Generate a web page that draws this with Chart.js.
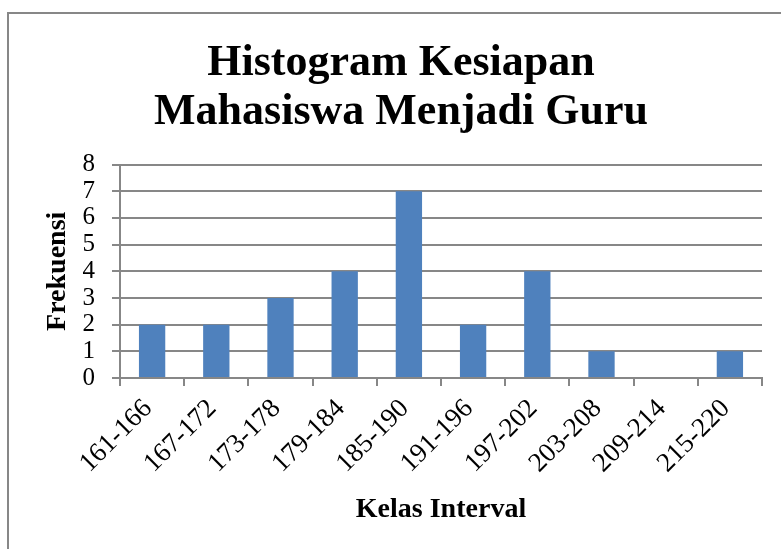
<!DOCTYPE html>
<html>
<head>
<meta charset="utf-8">
<title>Histogram Kesiapan Mahasiswa Menjadi Guru</title>
<script src="https://cdn.jsdelivr.net/npm/chart.js@4"></script>
<style>
	html, body { margin: 0; padding: 0; background: #ffffff; }
	#wrap { position: relative; width: 781px; height: 549px; }
</style>
</head>
<body>
<div id="wrap"><canvas id="grafik"></canvas></div>
<script>
// Data histogram
const kelasInterval = ['161-166', '167-172', '173-178', '179-184', '185-190', '191-196', '197-202', '203-208', '209-214', '215-220'];
const frekuensi = [2, 2, 3, 4, 7, 2, 4, 1, 0, 1];
const judul = ['Histogram Kesiapan', 'Mahasiswa Menjadi Guru'];

const abu = '#878787';
const serif = "'Liberation Serif', 'Times New Roman', serif";

// Bingkai abu-abu di sekeliling grafik
const bingkai = {
	id: 'bingkai',
	beforeDraw(chart) {
		const ctx = chart.ctx;
		ctx.save();
		ctx.fillStyle = '#ffffff';
		ctx.fillRect(0, 0, chart.width, chart.height);
		ctx.strokeStyle = abu;
		ctx.lineWidth = 2;
		ctx.strokeRect(8, 13, 800, 600);
		ctx.restore();
	}
};

new Chart(document.getElementById('grafik'), {
	type: 'bar',
	data: {
		labels: kelasInterval,
		datasets: [{
			label: 'Frekuensi',
			data: frekuensi,
			backgroundColor: '#4F81BD',
			categoryPercentage: 1,
			barPercentage: 0.41
		}]
	},
	options: {
		responsive: true,
		maintainAspectRatio: false,
		animation: false,
		layout: { padding: { left: 40, right: 19, top: 0, bottom: 0 } },
		plugins: {
			legend: { display: false },
			tooltip: { enabled: false },
			title: {
				display: true,
				text: judul,
				color: '#000000',
				font: { family: serif, size: 44, weight: 'bold', lineHeight: 1.12 },
				padding: { top: 39, bottom: 27 }
			}
		},
		scales: {
			x: {
				afterFit(scale) { scale.height = 171; },
				grid: {
					offset: true,
					drawOnChartArea: false,
					drawTicks: true,
					tickLength: 8,
					color: abu,
					lineWidth: 2
				},
				border: { color: abu, width: 2 },
				ticks: {
					autoSkip: false,
					maxRotation: 45,
					minRotation: 45,
					padding: 7,
					labelOffset: -4,
					color: '#000000',
					font: { family: serif, size: 27 }
				},
				title: {
					display: true,
					text: 'Kelas Interval',
					color: '#000000',
					font: { family: serif, size: 28, weight: 'bold' },
					padding: { top: 0, bottom: 22 }
				}
			},
			y: {
				min: 0,
				max: 8,
				afterFit(scale) { scale.width = 80; },
				grid: {
					drawTicks: true,
					tickLength: 8,
					color: abu,
					lineWidth: 2
				},
				border: { color: abu, width: 2 },
				ticks: {
					stepSize: 1,
					autoSkip: false,
					padding: 17,
					color: '#000000',
					font: { family: serif, size: 25 }
				},
				title: {
					display: true,
					text: 'Frekuensi',
					color: '#000000',
					font: { family: serif, size: 28, weight: 'bold' },
					padding: { top: 1, bottom: 0 }
				}
			}
		}
	},
	plugins: [bingkai]
});
</script>
</body>
</html>
